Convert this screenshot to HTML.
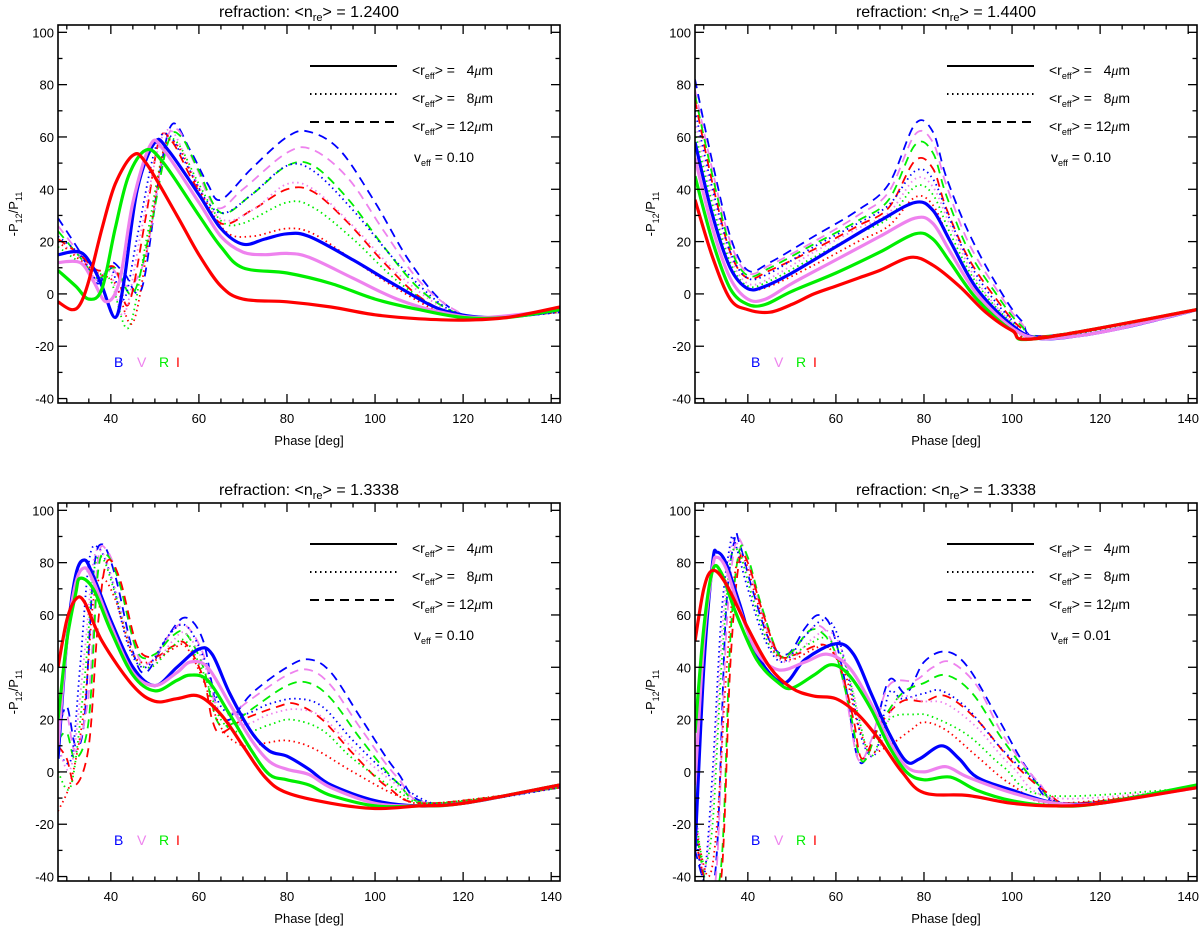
<!DOCTYPE html>
<html><head><meta charset="utf-8"><style>
html,body{margin:0;padding:0;background:#fff;}
svg{display:block;font-family:"Liberation Sans",sans-serif;}
</style></head><body>
<svg id="fig" width="1200" height="936" viewBox="0 0 1200 936" xmlns="http://www.w3.org/2000/svg"></svg>
<script>
// ---- data: [phase, -P12/P11] pairs per series ----
// Panel 1: n=1.2400, veff=0.10
const P1_B4=[[28,15],[33,16],[36,10],[38,3],[41,-9],[43,5],[46,40],[50,58],[53,55],[60,38],[65,25],[70,19],[75,21],[80,23],[85,22],[95,13],[105,3],[115,-6],[125,-9],[135,-8],[142,-6]];
const P1_V4=[[28,12],[33,12],[36,5],[39,-3],[42,5],[45,35],[49,57],[52,55],[60,35],[65,22],[70,16],[75,15],[80,15.5],[85,14],[95,6],[105,-2],[115,-7],[125,-9],[142,-6]];
const P1_R4=[[28,9],[32,3],[35,-2],[38,2],[41,25],[44,45],[48,55],[52,50],[60,30],[65,18],[70,10],[80,8],[90,4],[100,-2],[110,-6],[120,-9],[130,-9],[142,-6]];
const P1_I4=[[28,-3],[31,-6],[33,-4],[35,5],[38,25],[41,42],[45,53],[48,50],[55,30],[60,15],[65,3],[70,-2],[80,-3],[90,-5],[100,-8],[110,-9.5],[120,-10],[130,-9],[142,-5]];
const P1_B8=[[28,22],[33,15],[37,5],[40,10],[43,-2],[46,22],[50,55],[53,61],[57,50],[62,35],[66,31],[72,38],[80,49],[86,47],[95,32],[105,12],[115,-4],[122,-9],[130,-9],[142,-7]];
const P1_V8=[[28,20],[33,14],[37,7],[40,8],[43,-8],[47,25],[51,57],[54,62],[58,48],[63,32],[67,28],[73,33],[80,42],[86,40],[95,26],[105,8],[115,-5],[122,-9],[142,-7]];
const P1_R8=[[28,18],[33,12],[37,8],[40,5],[44,-13],[48,20],[52,55],[55,58],[60,42],[65,28],[70,27],[80,35],[86,33],[95,21],[105,5],[115,-6],[124,-9],[142,-7]];
const P1_I8=[[28,20],[33,13],[37,8],[41,4],[45,-11],[49,25],[52,55],[55,57],[60,40],[66,24],[72,22],[80,25],[86,23],[95,13],[105,2],[115,-7],[124,-9],[142,-7]];
const P1_B12=[[28,29],[33,16],[37,4],[40,12],[43,8],[47,2],[51,45],[54,65],[58,55],[62,42],[65,36],[72,48],[80,60],[85,62],[92,55],[100,35],[108,12],[116,-4],[124,-9],[142,-7]];
const P1_V12=[[28,26],[33,15],[37,5],[40,10],[44,3],[48,15],[52,55],[55,63],[59,50],[64,33],[70,40],[80,54],[86,55],[94,44],[102,24],[110,5],[118,-6],[125,-9],[142,-7]];
const P1_R12=[[28,24],[33,14],[37,6],[41,10],[45,0],[49,25],[53,58],[56,60],[60,47],[65,31],[72,38],[80,49],[86,49],[94,36],[102,18],[110,2],[118,-7],[125,-9],[142,-7]];
const P1_I12=[[28,21],[33,15],[37,9],[41,10],[44,-4],[48,30],[51,59],[54,58],[59,42],[65,27],[72,32],[80,40],[86,39],[94,27],[102,12],[110,-1],[118,-8],[125,-9],[142,-6]];
// Panel 2: n=1.4400, veff=0.10
const P2_B4=[[28,58],[32,30],[36,10],[40,2],[44,3],[50,8],[60,18],[70,28],[78,35],[82,32],[86,20],[92,2],[100,-12],[106,-17],[115,-16],[125,-13],[135,-9],[142,-6]];
const P2_V4=[[28,52],[32,25],[36,6],[40,-2],[44,-2],[50,4],[60,13],[70,22],[78,29],[82,27],[86,16],[92,0],[100,-13],[106,-17],[115,-16],[125,-13],[142,-6]];
const P2_R4=[[28,45],[32,20],[36,2],[40,-4],[44,-4],[50,1],[60,8],[70,16],[78,23],[82,21],[86,12],[92,-2],[100,-14],[106,-17],[142,-6]];
const P2_I4=[[28,36],[32,14],[36,-2],[40,-6],[45,-7],[50,-4],[55,0],[60,3],[65,6],[70,9],[77,14],[82,11],[88,3],[94,-7],[100,-14],[106,-17],[142,-6]];
const P2_B8=[[28,70],[32,40],[36,16],[40,6],[45,8],[55,18],[65,27],[72,34],[78,47],[82,44],[86,28],[92,7],[100,-10],[107,-17],[142,-6]];
const P2_V8=[[28,66],[32,37],[36,14],[40,4],[45,6],[55,16],[65,25],[72,31],[78,44],[82,41],[86,26],[92,5],[100,-11],[107,-17],[142,-6]];
const P2_R8=[[28,62],[32,34],[36,12],[40,3],[45,5],[55,14],[65,23],[72,29],[78,41],[82,38],[86,23],[92,4],[100,-11],[107,-17],[142,-6]];
const P2_I8=[[28,58],[32,30],[36,10],[40,2],[45,3],[55,11],[65,20],[72,26],[78,37],[82,34],[86,20],[92,2],[100,-12],[107,-17],[142,-6]];
const P2_B12=[[28,82],[32,50],[36,22],[40,9],[45,12],[55,22],[65,32],[72,42],[78,65],[82,62],[85,45],[90,24],[96,5],[102,-10],[108,-16],[142,-6]];
const P2_V12=[[28,78],[32,47],[36,20],[40,8],[45,11],[55,20],[65,30],[72,39],[78,61],[82,58],[85,42],[90,20],[96,3],[102,-11],[108,-16],[142,-6]];
const P2_R12=[[28,76],[32,45],[36,18],[40,7],[45,10],[55,19],[65,28],[72,36],[78,57],[82,54],[85,38],[90,17],[96,1],[102,-12],[108,-16],[142,-6]];
const P2_I12=[[28,74],[32,42],[36,16],[40,6],[45,9],[55,17],[65,26],[72,33],[78,51],[82,48],[85,33],[90,14],[96,-1],[102,-13],[108,-16],[142,-6]];
// Panel 3: n=1.3338, veff=0.10
const P3_B4=[[28,5],[30,50],[32,75],[34,81],[36,75],[40,58],[45,40],[50,33],[55,40],[60,47],[63,45],[67,30],[72,15],[76,8],[80,6],[85,1],[90,-5],[100,-11],[110,-13],[120,-12],[130,-9],[142,-5]];
const P3_V4=[[28,10],[30,50],[32,72],[34,78],[36,73],[40,56],[45,38],[50,33],[55,38],[58,42],[62,40],[67,26],[72,12],[76,4],[80,1],[85,-1],[90,-6],[100,-12],[110,-13],[120,-12],[142,-5]];
const P3_R4=[[28,20],[30,50],[32,68],[33,74],[36,70],[40,54],[45,37],[50,31],[55,35],[58,37],[62,35],[67,22],[72,8],[76,-1],[80,-3],[85,-5],[90,-9],[100,-13],[110,-13],[120,-12],[142,-5]];
const P3_I4=[[28,40],[30,58],[32,66],[34,65],[38,50],[45,33],[50,27],[55,28],[60,29],[65,22],[70,10],[75,-2],[80,-8],[90,-12],[100,-14],[110,-13],[120,-12],[142,-5]];
const P3_B8=[[28,8],[31,5],[33,40],[35,80],[37,86],[40,75],[44,48],[48,40],[53,52],[57,56],[61,44],[65,25],[70,22],[76,26],[82,28],[88,25],[95,12],[105,-4],[113,-12],[120,-12],[142,-6]];
const P3_V8=[[28,10],[31,2],[34,45],[36,80],[38,84],[41,70],[45,46],[49,40],[54,50],[57,53],[61,42],[65,22],[70,18],[76,22],[82,24],[88,21],[95,9],[105,-5],[113,-12],[142,-6]];
const P3_R8=[[28,0],[31,-5],[34,35],[36,75],[38,82],[41,68],[45,45],[49,40],[54,48],[57,50],[61,38],[65,20],[70,15],[76,18],[81,20],[88,16],[95,5],[105,-7],[113,-12],[142,-6]];
const P3_I8=[[28,-15],[31,-3],[34,25],[36,65],[38,74],[41,66],[45,45],[49,42],[54,47],[57,48],[61,35],[65,17],[70,10],[75,11],[80,12],[86,9],[95,0],[105,-9],[113,-12],[142,-6]];
const P3_B12=[[28,15],[30,25],[32,10],[34,20],[36,75],[38,87],[41,75],[45,46],[48,38],[53,52],[57,59],[61,50],[64,25],[67,20],[72,30],[80,40],[85,43],[90,38],[97,20],[105,0],[113,-12],[142,-6]];
const P3_V12=[[28,20],[30,22],[32,8],[35,30],[37,80],[39,85],[42,72],[46,45],[49,42],[54,54],[57,56],[61,45],[64,24],[67,22],[72,28],[80,37],[85,39],[90,33],[97,16],[105,-2],[113,-12],[142,-6]];
const P3_R12=[[28,12],[30,15],[32,5],[35,20],[37,75],[39,83],[42,72],[46,46],[50,45],[54,52],[57,53],[61,40],[64,20],[67,18],[72,24],[80,33],[85,34],[90,28],[97,12],[105,-4],[113,-12],[142,-6]];
const P3_I12=[[28,10],[30,5],[32,-5],[35,10],[37,55],[39,80],[42,74],[46,48],[50,44],[54,48],[57,49],[61,36],[63,20],[65,15],[70,20],[78,25],[82,26],[88,20],[95,7],[103,-6],[112,-12],[142,-6]];
// Panel 4: n=1.3338, veff=0.01
const P4_B4=[[28,-30],[30,40],[32,80],[33,84],[35,80],[38,65],[42,45],[48,34],[53,43],[60,49],[64,45],[68,30],[72,15],[76,4],[79,5],[84,10],[88,5],[92,-2],[100,-7],[110,-12],[120,-12],[130,-9],[142,-6]];
const P4_V4=[[28,-5],[30,50],[32,78],[33,82],[35,78],[38,63],[42,46],[47,39],[53,42],[58,45],[63,40],[68,26],[72,12],[76,2],[80,0],[85,2],[90,-2],[100,-8],[110,-12],[120,-12],[142,-6]];
const P4_R4=[[28,15],[30,55],[32,77],[34,76],[37,62],[42,43],[47,34],[50,32],[55,37],[59,41],[63,37],[68,24],[72,10],[76,0],[80,-3],[86,-2],[92,-7],[100,-11],[110,-13],[120,-12],[142,-5]];
const P4_I4=[[28,50],[30,70],[32,77],[35,72],[40,55],[45,40],[50,32],[55,29],[60,28],[65,22],[70,12],[75,0],[80,-8],[90,-9],[100,-12],[110,-13],[120,-12],[142,-6]];
const P4_B8=[[28,-20],[30,-40],[32,0],[34,60],[36,87],[37,88],[40,70],[44,50],[48,42],[53,52],[57,58],[60,54],[63,35],[66,12],[69,7],[72,30],[75,28],[80,30],[84,31],[90,24],[97,10],[105,-3],[113,-12],[142,-6]];
const P4_V8=[[28,-10],[30,-38],[32,-10],[34,50],[36,84],[38,86],[41,68],[45,48],[49,42],[54,50],[58,54],[61,48],[64,30],[67,8],[70,10],[74,28],[80,27],[85,26],[92,17],[100,2],[110,-10],[142,-6]];
const P4_R8=[[28,-15],[30,-35],[32,-20],[34,40],[36,80],[38,84],[41,67],[45,48],[49,44],[54,49],[58,51],[62,42],[65,22],[68,6],[72,20],[78,22],[82,21],[90,14],[98,2],[108,-9],[142,-6]];
const P4_I8=[[28,-20],[31,-40],[33,-20],[35,35],[37,75],[39,82],[42,66],[46,46],[50,43],[55,47],[58,48],[62,38],[65,18],[68,8],[72,10],[77,16],[80,19],[85,16],[92,6],[100,-5],[110,-12],[142,-6]];
const P4_B12=[[28,-30],[31,-45],[33,-30],[35,60],[37,89],[38,88],[41,70],[45,50],[49,45],[53,55],[56,60],[59,55],[62,35],[65,5],[68,10],[72,35],[76,30],[80,42],[85,46],[90,40],[97,20],[104,0],[112,-12],[142,-6]];
const P4_V12=[[28,-25],[31,-45],[33,-35],[35,50],[37,86],[39,86],[42,68],[46,47],[49,44],[53,52],[56,56],[59,50],[62,32],[65,5],[68,12],[72,33],[78,35],[82,40],[86,42],[92,33],[98,14],[106,-4],[113,-12],[142,-6]];
const P4_R12=[[28,-20],[31,-45],[34,-35],[36,50],[38,84],[40,82],[43,64],[47,45],[50,46],[54,54],[57,53],[60,45],[63,25],[66,4],[70,18],[75,30],[80,34],[85,37],[91,30],[98,12],[106,-5],[113,-12],[142,-6]];
const P4_I12=[[28,-25],[31,-45],[34,-40],[36,40],[38,80],[40,80],[43,63],[47,45],[51,45],[55,48],[58,48],[61,40],[64,20],[66,5],[70,18],[75,27],[80,27],[85,29],[92,20],[100,4],[108,-8],[115,-12],[142,-6]];

const TITLE_VALUES=["1.2400","1.4400","1.3338","1.3338"];
const VEFF=["0.10","0.10","0.10","0.01"];
const X_TICKS=[40,60,80,100,120,140];
const Y_TICKS=[-40,-20,0,20,40,60,80,100];
const LEGEND_LABELS=["4","8","12"];
const BANDS=["B","V","R","I"];

const COLORS={B:"#0000ff",V:"#ee82ee",R:"#00ee00",I:"#ff0000"};
const NS="http://www.w3.org/2000/svg";
const fig=document.getElementById('fig');
function el(tag,attrs,parent){const e=document.createElementNS(NS,tag);for(const k in attrs)e.setAttribute(k,attrs[k]);(parent||fig).appendChild(e);return e;}
function pathFrom(pts,sx,sy){
  const p=pts.map(d=>[sx(d[0]),sy(d[1])]);
  let s="M"+p[0][0].toFixed(1)+","+p[0][1].toFixed(1);
  for(let i=0;i<p.length-1;i++){
    const p0=p[i-1]||p[i],p1=p[i],p2=p[i+1],p3=p[i+2]||p2;
    const c1=[p1[0]+(p2[0]-p0[0])/6,p1[1]+(p2[1]-p0[1])/6];
    const c2=[p2[0]-(p3[0]-p1[0])/6,p2[1]-(p3[1]-p1[1])/6];
    s+="C"+c1[0].toFixed(1)+","+c1[1].toFixed(1)+" "+c2[0].toFixed(1)+","+c2[1].toFixed(1)+" "+p2[0].toFixed(1)+","+p2[1].toFixed(1);
  }
  return s;
}
const PANELS=[
 {L:58,T:25,s:{B4:P1_B4,V4:P1_V4,R4:P1_R4,I4:P1_I4,B8:P1_B8,V8:P1_V8,R8:P1_R8,I8:P1_I8,B12:P1_B12,V12:P1_V12,R12:P1_R12,I12:P1_I12}},
 {L:695,T:25,s:{B4:P2_B4,V4:P2_V4,R4:P2_R4,I4:P2_I4,B8:P2_B8,V8:P2_V8,R8:P2_R8,I8:P2_I8,B12:P2_B12,V12:P2_V12,R12:P2_R12,I12:P2_I12}},
 {L:58,T:503,s:{B4:P3_B4,V4:P3_V4,R4:P3_R4,I4:P3_I4,B8:P3_B8,V8:P3_V8,R8:P3_R8,I8:P3_I8,B12:P3_B12,V12:P3_V12,R12:P3_R12,I12:P3_I12}},
 {L:695,T:503,s:{B4:P4_B4,V4:P4_V4,R4:P4_R4,I4:P4_I4,B8:P4_B8,V8:P4_V8,R8:P4_R8,I8:P4_I8,B12:P4_B12,V12:P4_V12,R12:P4_R12,I12:P4_I12}}
];
const W=502,H=378,XMIN=28,XMAX=142,YMIN=-41.7,YMAX=102.8;
PANELS.forEach((P,pi)=>{
  const g=el('g',{});
  
  
  const sx=v=>P.L+(v-XMIN)/(XMAX-XMIN)*W;
  const sy=v=>P.T+(YMAX-v)/(YMAX-YMIN)*H;
  const cp=el('clipPath',{id:'cp'+pi},g);
  el('rect',{x:P.L,y:P.T,width:W,height:H},cp);
  const t=el('text',{x:P.L+W/2,y:P.T-8,'text-anchor':'middle','font-size':16,fill:'#000'},g);
  
  
  t.innerHTML='refraction: &lt;n<tspan font-size="11" dy="4">re</tspan><tspan dy="-4">&gt; = '+TITLE_VALUES[pi]+'</tspan>';
  const cg=el('g',{'clip-path':'url(#cp'+pi+')'},g);
  ["12","8","4"].forEach(r=>{
    ["B","V","R","I"].forEach(b=>{
      const a={d:pathFrom(P.s[b+r],sx,sy),fill:'none',stroke:COLORS[b],'stroke-linejoin':'round'};
      if(r==="4"){a['stroke-width']=3.2;}
      else if(r==="8"){a['stroke-width']=1.8;a['stroke-dasharray']='1.5 3.5';}
      else {a['stroke-width']=1.8;a['stroke-dasharray']='9 6';}
      const pth=el('path',a,cg);
      
      
    });
  });
  const fr=el('rect',{x:P.L,y:P.T,width:W,height:H,fill:'none',stroke:'#000','stroke-width':1.6},g);
  
  
  for(let v=30;v<=140;v+=5){
    const major=v%20===0,len=major?9:4.5;
    el('line',{x1:sx(v),x2:sx(v),y1:P.T+H,y2:P.T+H-len,stroke:'#000','stroke-width':1.3},g);
    el('line',{x1:sx(v),x2:sx(v),y1:P.T,y2:P.T+len,stroke:'#000','stroke-width':1.3},g);
  }
  X_TICKS.forEach(v=>{
    const tl=el('text',{x:sx(v),y:P.T+H+20,'text-anchor':'middle','font-size':13},g);
    
    
    tl.textContent=v;
  });
  for(let v=-40;v<=100;v+=10){
    const major=v%20===0,len=major?9:4.5;
    el('line',{x1:P.L,x2:P.L+len,y1:sy(v),y2:sy(v),stroke:'#000','stroke-width':1.3},g);
    el('line',{x1:P.L+W,x2:P.L+W-len,y1:sy(v),y2:sy(v),stroke:'#000','stroke-width':1.3},g);
  }
  Y_TICKS.forEach(v=>{
    const tl=el('text',{x:P.L-4,y:sy(v)+5,'text-anchor':'end','font-size':13},g);
    
    
    tl.textContent=v;
  });
  const xt=el('text',{x:P.L+W/2,y:P.T+H+42,'text-anchor':'middle','font-size':13},g);
  
  
  xt.textContent='Phase [deg]';
  const yx=P.L-40,yy=P.T+H/2;
  const yt=el('text',{x:yx,y:yy,'text-anchor':'middle','font-size':13,transform:'rotate(-90 '+yx+' '+yy+')'},g);
  
  
  yt.innerHTML='-P<tspan font-size="9" dy="4">12</tspan><tspan dy="-4">/P</tspan><tspan font-size="9" dy="4">11</tspan>';
  const lg=el('g',{},g);
  
  
  const styles=[{w:2,d:''},{w:2,d:'1.5 3.5'},{w:2,d:'9 6'}];
  LEGEND_LABELS.forEach((lab,i)=>{
    const ly=P.T+41+i*28;
    const ln=el('line',{x1:P.L+252,x2:P.L+339,y1:ly,y2:ly,stroke:'#000','stroke-width':styles[i].w,'stroke-dasharray':styles[i].d},lg);
    
    
    const lt=el('text',{x:P.L+354,y:ly+9,'font-size':14},lg);
    
    
    lt.innerHTML='&lt;r<tspan font-size="9" dy="4">eff</tspan><tspan dy="-4">&gt; = '+(lab.length<2?'&#160;&#160;':'')+lab+'</tspan><tspan font-family="Liberation Serif" font-style="italic">μ</tspan>m';
  });
  const vt=el('text',{x:P.L+356,y:P.T+137,'font-size':14},lg);
  
  
  vt.innerHTML='v<tspan font-size="9" dy="4">eff</tspan><tspan dy="-4"> = '+VEFF[pi]+'</tspan>';
  const bx=[56,79,101,118];
  BANDS.forEach((b,i)=>{
    const bt=el('text',{x:P.L+bx[i],y:sy(-26)+5,'font-size':14,fill:COLORS[b]},g);
    
    
    bt.textContent=b;
  });
});
</script>
</body></html>
